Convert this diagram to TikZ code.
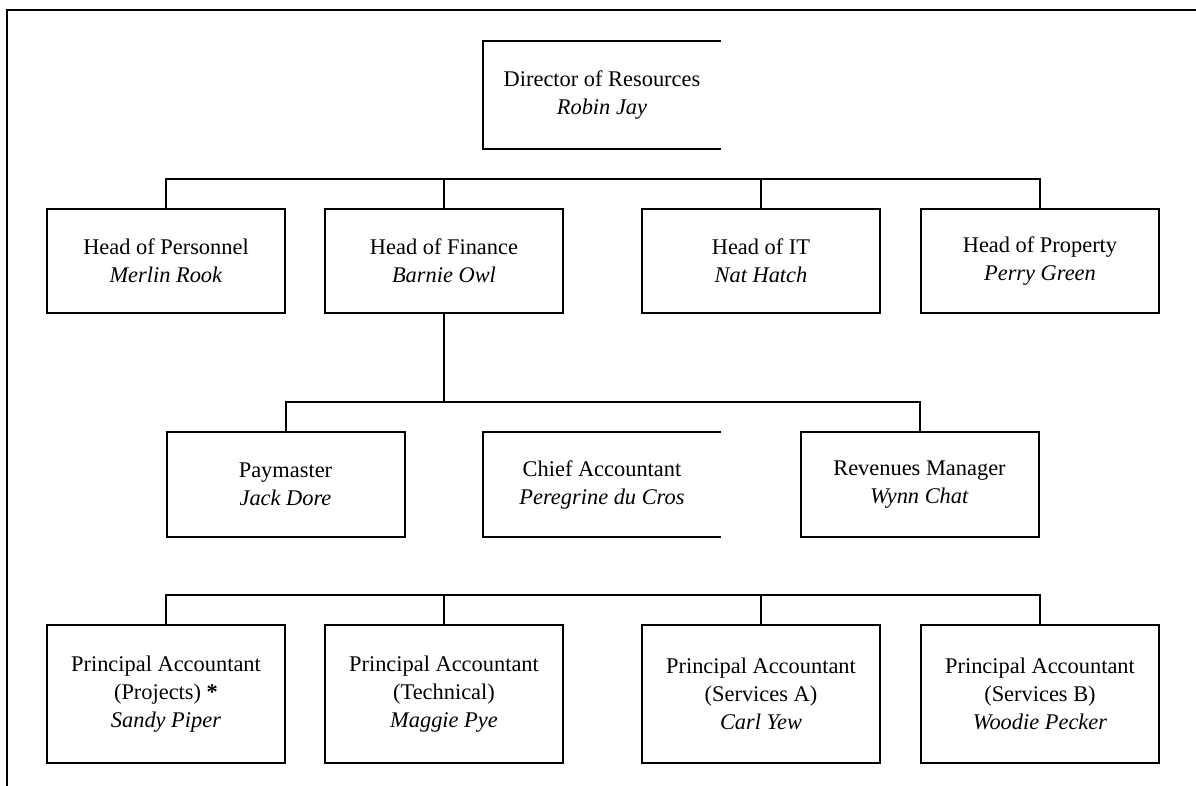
\documentclass[tikz,border=0pt]{standalone}
\usepackage{fontspec}
\setmainfont{Liberation Serif}
\begin{document}
\begin{tikzpicture}[x=0.5pt,y=-0.5pt,
  txt/.style={inner sep=0pt, align=center, font=\fontsize{11.2}{14}\selectfont},
  box/.style={txt, draw, line width=1pt, minimum width=119pt},
  lvltwo/.style={box, minimum height=52pt},
  lvlthree/.style={box, minimum height=52.5pt},
  lvlfour/.style={box, minimum height=69pt},
  openbox/.style={txt, minimum width=119pt},
  conn/.style={line width=1pt},
  frame/.style={line width=1.3pt},
]
\useasboundingbox (0,0) rectangle (1196,786);
\draw[frame] (1196,10) -- (7,10) -- (7,786);

% top
\node[openbox, minimum height=54pt] (dir) at (602,95) {Director of Resources\\\textit{Robin Jay}};
\draw[conn] (dir.north east) -- (dir.north west) -- (dir.south west) -- (dir.south east);

% level 2
\node[lvltwo] (hpers) at (166,261) {Head of Personnel\\\textit{Merlin Rook}};
\node[lvltwo] (hfin)  at (444,261) {Head of Finance\\\textit{Barnie Owl}};
\node[lvltwo] (hit)   at (761,261) {Head of IT\\\textit{Nat Hatch}};
\node[lvltwo] (hprop) at (1040,261) {Head of Property\\\textit{Perry Green}};

\coordinate (busone) at (0,179);
\draw[conn] (hpers.north) -- (hpers.north |- busone) -- (hprop.north |- busone) -- (hprop.north);
\draw[conn] (hfin.north) -- (hfin.north |- busone);
\draw[conn] (hit.north) -- (hit.north |- busone);

% level 3
\node[lvlthree] (pay) at (285.5,484.5) {Paymaster\\\textit{Jack Dore}};
\node[openbox, minimum height=52.5pt] (chief) at (602,484.5) {Chief Accountant\\\textit{Peregrine du Cros}};
\draw[conn] (chief.north east) -- (chief.north west) -- (chief.south west) -- (chief.south east);
\node[lvlthree] (rev) at (919.5,484.5) {Revenues Manager\\\textit{Wynn Chat}};

\coordinate (bustwo) at (0,402);
\draw[conn] (hfin.south) -- (hfin.south |- bustwo);
\draw[conn] (pay.north) -- (pay.north |- bustwo) -- (rev.north |- bustwo) -- (rev.north);

% level 4
\node[lvlfour] (pap) at (166,694) {Principal Accountant\\(Projects) \textbf{*}\\\textit{Sandy Piper}};
\node[lvlfour] (pat) at (444,694) {Principal Accountant\\(Technical)\\\textit{Maggie Pye}};
\node[lvlfour] (paa) at (761,694) {Principal Accountant\\(Services A)\\\textit{Carl Yew}};
\node[lvlfour] (pab) at (1040,694) {Principal Accountant\\(Services B)\\\textit{Woodie Pecker}};

\coordinate (busthree) at (0,595);
\draw[conn] (pap.north) -- (pap.north |- busthree) -- (pab.north |- busthree) -- (pab.north);
\draw[conn] (pat.north) -- (pat.north |- busthree);
\draw[conn] (paa.north) -- (paa.north |- busthree);
\end{tikzpicture}
\end{document}
